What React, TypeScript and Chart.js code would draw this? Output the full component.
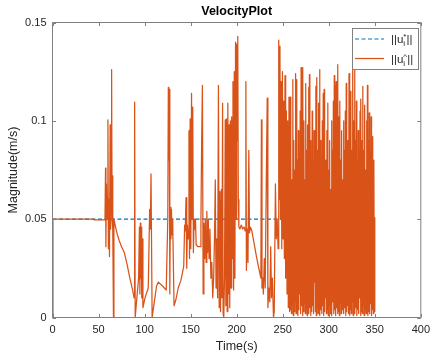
import { useEffect, useRef } from 'react';
import { Chart, registerables } from 'chart.js';

Chart.register(...registerables);

const xTicks = [0, 50, 100, 150, 200, 250, 300, 350, 400];
const yTicks = [0, 0.05, 0.1, 0.15];

const seriesLabels = ['||u_i^*||', '||u_i^^||'];
const seriesColors = ['#0072BD', '#D95319'];

// reference speed ||u*||
const refTime = [0, 350];
const refSpeed = [0.05, 0.05];

// measured speed ||u^k||, irregular part
const sparseTime = [
  0, 0.5, 44, 45, 57, 57.6, 58, 58.6, 59.2, 60.2, 60.7, 61.4, 61.9, 62.6, 63.1, 63.6, 64.2, 64.7, 65.2, 65.7,
  66.2, 66.7, 68.5, 70.5, 72.5, 75, 78, 81, 84, 87, 88.6, 89.2, 89.8, 92, 93.5, 94.4, 94.9, 95.4, 95.9, 96.4,
  96.9, 97.4, 98.2, 100.5, 102.5, 104, 105.5, 106.2, 107, 108.2, 110, 113, 115, 119.5, 123.5, 125.2, 125.8, 126.3, 126.8, 127.4,
  128, 128.6, 129.2, 129.8, 130.5, 132, 134, 136.5, 139.5, 142.5, 143.5, 144.2, 145, 145.8, 146.5, 147.3, 148.2, 148.8, 149.5, 150.2,
  151, 151.6, 152.3, 153, 153.8, 154.5, 155.3, 156, 158, 160.5, 161.2, 162, 162.8, 163.6, 164.4, 165.2, 166, 166.8, 167.6, 168.4,
  169.2, 170, 171, 172, 173, 174, 175, 176, 176.8, 177.6, 178.5, 179.3, 180.2, 181, 181.8, 182.5, 183.3, 184, 184.7, 185.3,
  186, 186.8, 187.6, 188.3, 189, 189.7, 190.4, 191.1, 191.8, 192.5, 193.2, 193.9, 194.6, 195.3, 196, 196.7, 197.4, 198.1, 198.8, 199.4,
  200, 200.6, 201.2, 201.8, 202.4, 203.5, 205, 206.5, 208, 209.3, 210, 210.6, 211.5, 212.3, 213.2, 213.9, 215, 216.5, 218, 219.6,
  221.5, 223.2, 225, 226.3, 226.9, 227.5, 228.3, 229, 230, 231, 232.2, 233.2, 233.9, 235, 236, 237, 237.8, 238.8, 240, 240.8,
  242.1, 243, 244, 245, 245.7, 246.3, 247, 247.6, 248.3, 249, 249.7, 250.4, 251.1, 251.8, 252.5, 253.2, 254, 254.7, 255.4, 256.1,
  256.8, 257.5,
];
const sparseSpeed = [
  0, 0.05, 0.05, 0.0497, 0.0497, 0.076, 0.036, 0.068, 0.05, 0.1005, 0.035, 0.06, 0.031, 0.098, 0.045, 0.065, 0.126, 0.05, 0.072, 0.045,
  0, 0.05, 0.046, 0.042, 0.039, 0.036, 0.033, 0.027, 0.02, 0.014, 0.01, 0.1095, 0, 0.012, 0.02, 0.046, 0.012, 0.048, 0.02, 0.046,
  0.01, 0.04, 0.005, 0.01, 0.013, 0.015, 0.055, 0.045, 0.073, 0, 0.006, 0.016, 0.018, 0.016, 0.014, 0.05, 0.117, 0.08, 0.116, 0.012,
  0.056, 0.04, 0.055, 0.042, 0.05, 0.006, 0.009, 0.015, 0.019, 0.026, 0.047, 0.044, 0.061, 0.025, 0.047, 0.04, 0.095, 0.03, 0.101, 0.035,
  0.114, 0.05, 0.107, 0.033, 0.05, 0.045, 0.05, 0.037, 0.036, 0.036, 0.05, 0.09, 0.118, 0.012, 0.048, 0.03, 0.05, 0.028, 0.054, 0.033,
  0.05, 0.03, 0.045, 0.02, 0.028, 0.01, 0.02, 0.042, 0.07, 0.015, 0.04, 0.01, 0.118, 0.005, 0.064, 0.003, 0.065, 0.01, 0.109, 0.002,
  0, 0.02, 0.1005, 0.006, 0.101, 0.003, 0.109, 0.012, 0.098, 0.005, 0.1, 0.015, 0.102, 0.03, 0.12, 0.014, 0.125, 0.02, 0.14, 0.05,
  0.139, 0.09, 0.143, 0.06, 0.046, 0.045, 0.047, 0.045, 0.046, 0.044, 0.12, 0.024, 0.045, 0.028, 0.085, 0.043, 0.046, 0.044, 0.04, 0.036,
  0.031, 0.027, 0.023, 0.02, 0.1005, 0.015, 0.02, 0.012, 0.03, 0.015, 0.07, 0.1116, 0.005, 0.015, 0.008, 0.036, 0.01, 0.02, 0, 0.003,
  0.068, 0.04, 0.05, 0.035, 0.141, 0.06, 0.138, 0.05, 0.12, 0.035, 0.125, 0.04, 0.11, 0.03, 0.123, 0.02, 0.105, 0.012, 0.1, 0.005,
  0.112, 0.003,
];

// measured speed ||u^k||, densely oscillating part (sampled every 0.5 s from 258 s)
const denseStart = 258;
const denseStep = 0.5;
const denseSpeed = [
  0.112, 0.004, 0.085, 0.002, 0.07, 0.006, 0.121, 0.001, 0.09, 0.003, 0.075, 0.008, 0.124, 0.002, 0.121, 0.005,
  0.08, 0.001, 0.095, 0.004, 0.065, 0.012, 0.105, 0.002, 0.127, 0.006, 0.09, 0.001, 0.127, 0.003, 0.1, 0.007,
  0.07, 0.002, 0.119, 0.004, 0.085, 0.001, 0.098, 0.009, 0.117, 0.002, 0.1235, 0.005, 0.09, 0.001, 0.065, 0.003,
  0.105, 0.006, 0.08, 0.002, 0.095, 0.018, 0.072, 0.003, 0.1175, 0.001, 0.122, 0.005, 0.085, 0.002, 0.109, 0.007,
  0.126, 0.001, 0.09, 0.004, 0.07, 0.002, 0.1, 0.006, 0.114, 0.001, 0.116, 0.003, 0.08, 0.01, 0.06, 0.002,
  0.095, 0.004, 0.109, 0.001, 0.075, 0.006, 0.09, 0.002, 0.065, 0.003, 0.1, 0.001, 0.085, 0.008, 0.11, 0.002,
  0.123, 0.004, 0.118, 0.001, 0.12, 0.005, 0.095, 0.002, 0.1286, 0.003, 0.102, 0.001, 0.11, 0.007, 0.08, 0.002,
  0.095, 0.004, 0.07, 0.015, 0.1, 0.002, 0.085, 0.005, 0.105, 0.001, 0.119, 0.003, 0.09, 0.006, 0.075, 0.002,
  0.124, 0.001, 0.1, 0.004, 0.115, 0.002, 0.085, 0.008, 0.13, 0.001, 0.1, 0.003, 0.135, 0.002, 0.09, 0.005,
  0.11, 0.001, 0.08, 0.004, 0.095, 0.002, 0.07, 0.01, 0.105, 0.001, 0.111, 0.003, 0.09, 0.002, 0.1175, 0.006,
  0.085, 0.001, 0.108, 0.004, 0.075, 0.002, 0.1, 0.005, 0.118, 0.001, 0.09, 0.003, 0.104, 0.002, 0.085, 0.007,
  0.102, 0.001, 0.092, 0.004, 0.07, 0.002, 0.08, 0.003, 0.051,
];

const FONT = '"Liberation Sans", Arial, Helvetica, sans-serif';
const TEXT = '#262626';
const FRAME = '#808080';

function drawRich(ctx: CanvasRenderingContext2D, text: string, x: number, y: number, size: number) {
  let cx = x;
  let scriptStart = -1;
  let scriptWidth = 0;
  let lastWasScript = false;
  for (let i = 0; i < text.length; i++) {
    let ch = text[i];
    if ((ch === '_' || ch === '^') && i + 1 < text.length) {
      const mode = ch;
      ch = text[++i];
      const s = size * 0.7;
      ctx.font = `${s}px ${FONT}`;
      const w = ctx.measureText(ch).width;
      const dy = mode === '_' ? size * 0.28 : -size * 0.32;
      if (lastWasScript) {
        ctx.fillText(ch, scriptStart, y + dy);
        const nw = Math.max(scriptWidth, w);
        cx = scriptStart + nw;
        scriptWidth = nw;
      } else {
        scriptStart = cx;
        scriptWidth = w;
        ctx.fillText(ch, cx, y + dy);
        cx += w;
      }
      lastWasScript = true;
    } else {
      ctx.font = `${size}px ${FONT}`;
      ctx.fillText(ch, cx, y);
      cx += ctx.measureText(ch).width;
      lastWasScript = false;
    }
  }
}

const framePlugin = {
  id: 'matlabFrame',
  afterDatasetsDraw(chart: any) {
    const { ctx, chartArea } = chart;
    const { left, right, top, bottom } = chartArea;
    const xs = chart.scales.x;
    const ys = chart.scales.y;
    const tl = 3.5;
    ctx.save();
    ctx.strokeStyle = FRAME;
    ctx.lineWidth = 1;
    ctx.beginPath();
    ctx.rect(left, top, right - left, bottom - top);
    for (const v of xTicks) {
      const px = Math.round(xs.getPixelForValue(v)) + 0.5;
      ctx.moveTo(px, bottom);
      ctx.lineTo(px, bottom - tl);
      ctx.moveTo(px, top);
      ctx.lineTo(px, top + tl);
    }
    for (const v of yTicks) {
      const py = Math.round(ys.getPixelForValue(v)) + 0.5;
      ctx.moveTo(left, py);
      ctx.lineTo(left + tl, py);
      ctx.moveTo(right, py);
      ctx.lineTo(right - tl, py);
    }
    ctx.stroke();
    ctx.restore();
  },
  afterDraw(chart: any) {
    const { ctx } = chart;
    const bx = 352.5, by = 28.5, bw = 66, bh = 41;
    ctx.save();
    ctx.fillStyle = '#ffffff';
    ctx.fillRect(bx, by, bw, bh);
    ctx.strokeStyle = FRAME;
    ctx.lineWidth = 1;
    ctx.strokeRect(bx, by, bw, bh);
    const rows = [39, 58.5];
    chart.data.datasets.forEach((ds: any, i: number) => {
      const ry = rows[i];
      ctx.strokeStyle = ds.borderColor;
      ctx.lineWidth = ds.borderWidth;
      ctx.setLineDash(ds.borderDash || []);
      ctx.beginPath();
      ctx.moveTo(355, ry);
      ctx.lineTo(384, ry);
      ctx.stroke();
      ctx.setLineDash([]);
      ctx.fillStyle = TEXT;
      ctx.textBaseline = 'alphabetic';
      ctx.textAlign = 'left';
      drawRich(ctx, ds.label, 391, ry + 4, 11.5);
    });
    ctx.restore();
  },
};

export default function App() {
  const canvasRef = useRef<HTMLCanvasElement | null>(null);

  useEffect(() => {
    const canvas = canvasRef.current;
    if (!canvas) return;
    const refPoints = refTime.map((t, i) => ({ x: t, y: refSpeed[i] }));
    const measuredPoints = [
      ...sparseTime.map((t, i) => ({ x: t, y: sparseSpeed[i] })),
      ...denseSpeed.map((v, i) => ({ x: denseStart + i * denseStep, y: v })),
    ];
    const chart = new Chart(canvas, {
      type: 'line',
      data: {
        datasets: [
          {
            label: seriesLabels[0],
            data: refPoints,
            borderColor: seriesColors[0],
            backgroundColor: seriesColors[0],
            borderWidth: 1.2,
            borderDash: [4, 2.5],
            pointRadius: 0,
            tension: 0,
            order: 2,
          },
          {
            label: seriesLabels[1],
            data: measuredPoints,
            borderColor: seriesColors[1],
            backgroundColor: seriesColors[1],
            borderWidth: 1.25,
            borderJoinStyle: 'round',
            pointRadius: 0,
            tension: 0,
            order: 1,
          },
        ],
      },
      options: {
        responsive: false,
        animation: false,
        devicePixelRatio: 1,
        layout: { padding: { left: 0, right: 10.5, top: 0, bottom: 0 } },
        plugins: {
          legend: { display: false },
          tooltip: { enabled: false },
          title: {
            display: true,
            text: 'VelocityPlot',
            fullSize: false,
            color: '#000000',
            font: { family: FONT, size: 12.5, weight: 'bold', lineHeight: 1.2 },
            padding: { top: 4.5, bottom: 3 },
          },
        },
        scales: {
          x: {
            type: 'linear',
            min: 0,
            max: 400,
            afterBuildTicks: (scale: any) => {
              scale.ticks = xTicks.map((v) => ({ value: v }));
            },
            afterFit: (scale: any) => {
              scale.height = 43.5;
            },
            grid: { display: false, drawTicks: false },
            border: { display: false },
            ticks: {
              color: TEXT,
              padding: 6,
              maxRotation: 0,
              autoSkip: false,
              font: { family: FONT, size: 11, lineHeight: 1.2 },
              callback: (v: any) => String(v),
            },
            title: {
              display: true,
              text: 'Time(s)',
              color: TEXT,
              font: { family: FONT, size: 12.5, lineHeight: 1.2 },
              padding: { top: 0, bottom: 7 },
            },
          },
          y: {
            type: 'linear',
            min: 0,
            max: 0.15,
            afterBuildTicks: (scale: any) => {
              scale.ticks = yTicks.map((v) => ({ value: v }));
            },
            afterFit: (scale: any) => {
              scale.width = 52.5;
            },
            grid: { display: false, drawTicks: false },
            border: { display: false },
            ticks: {
              color: TEXT,
              padding: 6,
              autoSkip: false,
              font: { family: FONT, size: 11, lineHeight: 1.2 },
              callback: (v: any) => String(Number(Number(v).toFixed(4))),
            },
            title: {
              display: true,
              text: 'Magnitude(m/s)',
              color: TEXT,
              font: { family: FONT, size: 12.5, lineHeight: 1.2 },
              padding: { top: 6, bottom: 0 },
            },
          },
        },
      },
      plugins: [framePlugin],
    } as any);
    return () => chart.destroy();
  }, []);

  return (
    <div style={{ position: 'absolute', left: 0, top: 0, width: 436, height: 361, background: '#ffffff' }}>
      <canvas ref={canvasRef} width={436} height={361} style={{ display: 'block' }} />
    </div>
  );
}
